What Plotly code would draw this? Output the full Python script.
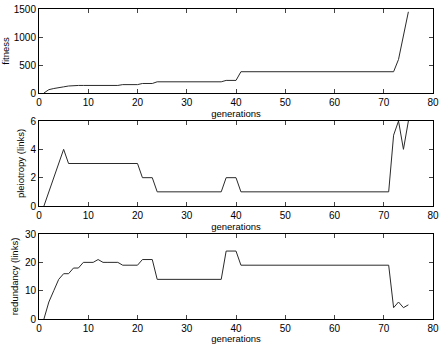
import plotly.graph_objects as go
from plotly.subplots import make_subplots

# generations 1..75
generations = list(range(1, 76))

fitness = [0, 60, 80, 100, 110, 125, 135, 135, 135, 135,
           135, 135, 135, 135, 135, 135, 150, 150, 150, 150,
           170, 170, 170, 200, 200, 200, 200, 200, 200, 200,
           200, 200, 200, 200, 200, 200, 200, 225, 225, 225,
           380, 380, 380, 380, 380, 380, 380, 380, 380, 380,
           380, 380, 380, 380, 380, 380, 380, 380, 380, 380,
           380, 380, 380, 380, 380, 380, 380, 380, 380, 380,
           380, 380, 600, 1050, 1450]

pleiotropy = [0, 1, 2, 3, 4, 3, 3, 3, 3, 3,
              3, 3, 3, 3, 3, 3, 3, 3, 3, 3,
              2, 2, 2, 1, 1, 1, 1, 1, 1, 1,
              1, 1, 1, 1, 1, 1, 1, 2, 2, 2,
              1, 1, 1, 1, 1, 1, 1, 1, 1, 1,
              1, 1, 1, 1, 1, 1, 1, 1, 1, 1,
              1, 1, 1, 1, 1, 1, 1, 1, 1, 1,
              1, 5, 6, 4, 6]

redundancy = [0, 6, 10, 14, 16, 16, 18, 18, 20, 20,
              20, 21, 20, 20, 20, 20, 19, 19, 19, 19,
              21, 21, 21, 14, 14, 14, 14, 14, 14, 14,
              14, 14, 14, 14, 14, 14, 14, 24, 24, 24,
              19, 19, 19, 19, 19, 19, 19, 19, 19, 19,
              19, 19, 19, 19, 19, 19, 19, 19, 19, 19,
              19, 19, 19, 19, 19, 19, 19, 19, 19, 19,
              19, 4, 6, 4, 5]

panels = [
    ("fitness", fitness, [0, 1500], [0, 500, 1000, 1500]),
    ("pleiotropy (links)", pleiotropy, [0, 6], [0, 2, 4, 6]),
    ("redundancy (links)", redundancy, [0, 30], [0, 10, 20, 30]),
]
x_ticks = [0, 10, 20, 30, 40, 50, 60, 70, 80]

fig = make_subplots(rows=3, cols=1)
domains = [[0.729, 1.0], [0.3645, 0.6387], [0.0, 0.274]]

font = dict(family="Liberation Sans, Arial, sans-serif", size=10, color="black")
title_font = dict(family="Liberation Sans, Arial, sans-serif", size=9.5, color="black")

for i, (label, values, yrange, yticks) in enumerate(panels, start=1):
    fig.add_trace(
        go.Scatter(x=generations, y=values, mode="lines",
                   line=dict(color="#2a2a2a", width=1), showlegend=False),
        row=i, col=1
    )
    fig.update_xaxes(range=[0, 80], tickvals=x_ticks, ticks="inside", ticklen=4,
                     mirror="ticks", showline=True, linecolor="black", linewidth=1,
                     showgrid=False, zeroline=False, tickfont=font, automargin=False,
                     title_text="generations", title_font=title_font, title_standoff=0,
                     row=i, col=1)
    fig.update_yaxes(range=yrange, tickvals=yticks, ticks="inside", ticklen=4,
                     mirror="ticks", showline=True, linecolor="black", linewidth=1,
                     showgrid=False, zeroline=False, tickfont=font, automargin=False,
                     title_text=label, title_font=title_font, title_standoff=4,
                     domain=domains[i - 1], row=i, col=1)

fig.update_layout(
    width=442, height=344,
    margin=dict(l=39, r=9, t=9, b=25),
    paper_bgcolor="white", plot_bgcolor="white",
    font=font,
)

# drop the default body margin so the figure sits at the page corner
fig.write_html("out.html", config={"displayModeBar": False},
               post_script="document.body.style.margin='0';")
